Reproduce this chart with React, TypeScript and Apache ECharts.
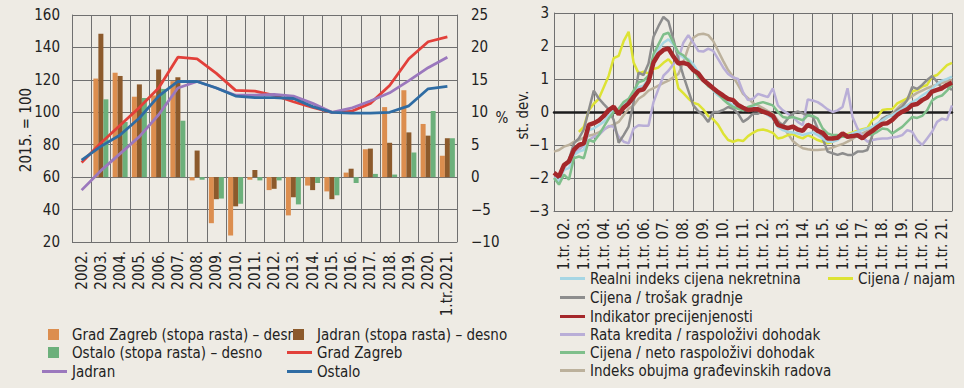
import React, { useEffect, useRef } from "react";
import * as echarts from "echarts";

const FONT = "'Liberation Sans Narrow', 'Arial Narrow', 'DejaVu Sans Condensed', 'Liberation Sans', sans-serif";
const BG = "#eeebe4";
const GRID = "#707070";
const TXT = "#222222";

// ---------- Left panel ----------
const years = ["2002.", "2003.", "2004.", "2005.", "2006.", "2007.", "2008.", "2009.", "2010.", "2011.", "2012.", "2013.", "2014.", "2015.", "2016.", "2017.", "2018.", "2019.", "2020.", "1.tr.2021."];
const zagrebIdx = [69, 81, 92, 103, 115, 134, 133, 124, 113.5, 113, 110.5, 106.5, 103, 100, 100.5, 105.5, 116.5, 133, 143.5, 146.5];
const jadranIdx = [52, 64, 74.5, 85, 98.5, 115, 119, 115, 110.5, 110.5, 111, 110, 105.5, 100, 102.5, 107, 112, 119.5, 127.5, 134];
const ostaloIdx = [70.5, 79, 86, 96.5, 110, 119, 119, 115, 110, 109, 109, 108.5, 103.5, 100, 99.5, 99.5, 100, 104, 114.5, 116];
const zagrebRate = [null, 15.2, 16.1, 12.4, 12.6, 14.8, -0.5, -7.1, -9.0, -0.4, -2.0, -5.9, -1.3, -2.2, 0.7, 4.3, 10.8, 13.4, 8.2, 3.3];
const jadranRate = [null, 22.1, 15.6, 14.3, 16.6, 15.4, 4.1, -3.4, -4.5, 1.1, -1.8, -3.1, -2.0, -3.4, 1.3, 4.4, 5.3, 6.9, 6.4, 6.0];
const ostaloRate = [null, 12.0, 8.5, 12.2, 13.6, 8.7, -0.4, -3.3, -4.1, -0.5, -0.5, -4.2, -0.9, -2.8, -0.9, 0.5, 0.4, 3.8, 10.2, 6.0];
const leftAxisName = "2015. = 100";
const rightAxisName = "%";

// ---------- Right panel ----------
const yearLabels = ["1.tr. 02.", "1.tr. 03.", "1.tr. 04.", "1.tr. 05.", "1.tr. 06.", "1.tr. 07.", "1.tr. 08.", "1.tr. 09.", "1.tr. 10.", "1.tr. 11.", "1.tr. 12.", "1.tr. 13.", "1.tr. 14.", "1.tr. 15.", "1.tr. 16.", "1.tr. 17.", "1.tr. 18.", "1.tr. 19.", "1.tr. 20.", "1.tr. 21."];
const quarters = Array.from({ length: 81 }, (_, i) => `${2002 + Math.floor(i / 4)}Q${(i % 4) + 1}`);
const stDevName = "st. dev.";

const realniIndeks = [
  -2.0, -2.1, -1.75, -1.7, -1.3, -1.2, -1.15, -0.55, -0.5, -0.4, -0.3, -0.1, 0.05, 0.1, 0.25, 0.35, 0.5, 0.75, 0.8, 1.0,
  1.55, 1.9, 2.1, 2.2, 2.05, 1.8, 1.65, 1.6, 1.45, 1.2, 1.0, 0.85, 0.65, 0.5, 0.4, 0.3, 0.2, 0.15, 0.1, 0.12,
  0.15, 0.1, 0.0, -0.1, -0.2, -0.45, -0.55, -0.6, -0.62, -0.65, -0.7, -0.65, -0.62, -0.7, -0.8, -0.9, -0.9, -0.85, -0.72, -0.7,
  -0.65, -0.6, -0.55, -0.5, -0.45, -0.35, -0.25, -0.15, -0.1, 0.0, 0.1, 0.2, 0.3, 0.38, 0.5, 0.6, 0.7, 0.85, 0.95, 1.0,
  1.07,
];
const trosakGradnje = [
  null, null, -1.6, -1.45, -0.95, -0.8, -0.53, 0.06, 0.65, 0.41, 0.24, 0.08, -0.24, -0.93, -0.7, -0.44, 0.3, 1.19, 1.12, 1.47,
  2.28, 2.6, 2.88, 2.75, 2.2, 1.6, 1.1, 0.65, 0.2, 0.02, -0.1, -0.3, 0.0, 0.0, 0.06, 0.15, 0.1, -0.05, -0.3, -0.2,
  -0.05, -0.05, 0.05, 0.0, -0.09, -0.3, -0.39, -0.2, -0.05, 0.02, -0.04, -0.1, -0.14, -0.5, -0.8, -1.2, -1.25, -1.3, -1.25, -1.3,
  -1.3, -1.2, -1.2, -1.15, -0.7, -0.4, -0.2, -0.12, -0.1, 0.06, 0.16, 0.36, 0.76, 0.7, 0.82, 0.97, 1.09, 0.92, 0.72, 0.77,
  0.67,
];
const indikator = [
  -1.84, -1.96, -1.61, -1.5, -1.15, -1.0, -0.95, -0.39, -0.34, -0.26, -0.12, 0.06, 0.16, -0.07, 0.13, 0.26, 0.46, 0.65, 0.69, 0.92,
  1.5, 1.75, 1.88, 1.93, 1.68, 1.47, 1.49, 1.44, 1.27, 1.17, 0.97, 0.85, 0.72, 0.6, 0.5, 0.4, 0.36, 0.21, 0.13, 0.06,
  0.08, 0.08, 0.01, -0.04, -0.12, -0.39, -0.44, -0.49, -0.44, -0.53, -0.57, -0.39, -0.46, -0.57, -0.63, -0.8, -0.8, -0.78, -0.65, -0.75,
  -0.73, -0.7, -0.8, -0.67, -0.57, -0.46, -0.36, -0.34, -0.24, -0.09, 0.01, 0.08, 0.21, 0.24, 0.36, 0.44, 0.62, 0.67, 0.72, 0.82,
  0.89,
];
const rataKredita = [
  -2.0, -1.95, -1.7, -1.5, -1.25, -1.15, -1.0, -0.85, -0.75, -0.7, -0.55, -0.42, -0.45, -0.75, -0.9, -0.95, -0.5, -0.4, -0.42, -0.42,
  0.3, 0.7, 1.1, 1.25, 1.45, 1.6, 2.1, 2.33, 2.1, 1.85, 1.83, 1.92, 1.85, 1.6, 1.35, 1.15, 1.05, 1.0, 0.6, 0.36,
  0.4, 0.55, 0.5, 0.45, 0.72, 0.2, 0.05, -0.05, -0.15, -0.3, -0.4, 0.38, 0.35, 0.3, 0.2, 0.08, 0.0, 0.05, 0.15, 0.72,
  -0.15, -0.5, -0.75, -0.9, -0.85, -0.82, -0.8, -0.8, -0.77, -0.75, -0.7, -0.55, -0.6, -0.85, -1.0, -0.8, -0.6, -0.3, -0.2, -0.24,
  0.2,
];
const netoDohodak = [
  -2.0, -2.2, -1.9, -2.05, -1.4, -1.35, -1.4, -0.85, -0.9, -0.7, -0.45, -0.2, 0.0, 0.1, 0.3, 0.4, 0.65, 0.9, 0.95, 1.1,
  1.75, 2.05, 2.35, 2.4, 2.1, 1.8, 1.72, 1.55, 1.3, 1.05, 0.95, 0.78, 0.68, 0.55, 0.38, 0.25, 0.15, 0.1, 0.05, 0.15,
  0.2, 0.26, 0.3, 0.25, 0.2, 0.0, -0.15, -0.18, -0.15, -0.2, -0.25, -0.1, -0.12, -0.2, -0.5, -0.65, -0.7, -0.7, -0.75, -0.75,
  -0.75, -0.75, -0.78, -0.7, -0.68, -0.6, -0.5, -0.52, -0.65, -0.55, -0.45, -0.3, -0.15, -0.18, -0.12, 0.05, 0.35, 0.45, 0.5, 0.65,
  0.82,
];
const obujamRadova = [
  -1.2, -1.15, -1.05, -1.0, -0.9, -0.85, -0.78, -0.72, -0.68, -0.62, -0.52, -0.45, -0.38, -0.3, -0.1, 0.1, 0.2, 0.4, 0.5, 0.65,
  0.72, 0.8, 0.88, 0.95, 1.05, 1.15, 1.5, 1.95, 2.25, 2.35, 2.37, 2.33, 2.15, 1.85, 1.55, 1.27, 1.07, 0.82, 0.55, 0.42,
  0.27, 0.2, 0.12, 0.03, -0.05, -0.25, -0.45, -0.65, -0.88, -1.0, -1.1, -1.13, -1.15, -1.15, -1.14, -1.12, -1.08, -1.02, -0.97, -0.9,
  -0.82, -0.72, -0.65, -0.57, -0.5, -0.4, -0.28, -0.15, -0.05, 0.1, 0.25, 0.38, 0.48, 0.58, 0.65, 0.72, 0.78, 0.83, 0.88, 0.93,
  0.97,
];
const cijenaNajam = [
  null, null, null, null, null, -0.6, -0.45, 0.05, 0.25, 0.4, 0.75, 1.1, 1.63, 1.7, 2.15, 2.43, 1.5, 1.17, 1.22, 1.17,
  1.3, 1.35, 1.49, 1.6, 1.42, 0.72, 0.57, 0.41, 0.28, 0.23, 0.08, -0.12, -0.22, -0.39, -0.65, -0.85, -0.9, -0.85, -0.88, -0.73,
  -0.63, -0.55, -0.53, -0.57, -0.63, -0.8, -0.77, -0.7, -0.67, -0.75, -0.8, -0.7, -0.77, -0.85, -0.9, -0.95, -0.9, -0.8, -0.73, -0.67,
  -0.62, -0.57, -0.52, -0.48, -0.25, -0.15, 0.06, 0.08, 0.09, 0.26, 0.34, 0.41, 0.62, 0.67, 0.77, 0.82, 1.07, 1.12, 1.27, 1.42,
  1.49,
];

const C = {
  zagrebBar: "#dc8e4f",
  jadranBar: "#8c5a2c",
  ostaloBar: "#6cb07b",
  zagrebLine: "#e2403a",
  jadranLine: "#9b78bd",
  ostaloLine: "#2f6ca3",
  realni: "#a6d6e4",
  trosak: "#8d8d8d",
  indikator: "#a5282b",
  rata: "#b9aed7",
  neto: "#7fbf8b",
  obujam: "#bcb19c",
  najam: "#dde334",
};

const minus = (v: number) => String(v).replace("-", "\u2212");
const txt = (size = 15) => ({ fontFamily: FONT, fontSize: size, color: TXT });

function barLegend(name: string, left: number, cy: number) {
  return {
    data: [name], left, top: cy - 8, padding: 0, icon: "rect", itemWidth: 11, itemHeight: 11,
    selectedMode: false, textStyle: { ...txt(15), padding: [0, 0, 0, 8] },
  };
}
function lineLegend(name: string, left: number, cy: number) {
  return {
    data: [name], left, top: cy - 8, padding: 0, icon: "rect", itemWidth: 25, itemHeight: 3,
    selectedMode: false, textStyle: { ...txt(15) },
  };
}
function axisTitle(text: string, x: number, y: number, rotated: boolean) {
  return {
    type: "text", x, y, rotation: rotated ? Math.PI / 2 : 0, silent: true,
    style: { text, fill: TXT, font: `15px ${FONT}`, align: "center", verticalAlign: "middle" },
  };
}

export default function App() {
  const ref = useRef<HTMLDivElement>(null);
  useEffect(() => {
    const chart = echarts.init(ref.current!, null, { renderer: "svg" });
    const lineSeries = (name: string, data: (number | null)[], color: string, width: number, z: number) => ({
      name, type: "line", xAxisIndex: 2, yAxisIndex: 2, data, showSymbol: false, symbol: "none",
      connectNulls: false, z, lineStyle: { color, width }, itemStyle: { color },
    });
    chart.setOption({
      animation: false,
      backgroundColor: BG,
      textStyle: { fontFamily: FONT },
      grid: [
        { left: 72, top: 15, width: 385, height: 227 },
        { left: 554, top: 13, width: 398, height: 198 },
      ],
      graphic: [
        axisTitle(leftAxisName, 26, 130, true),
        axisTitle(rightAxisName, 502, 118, false),
        axisTitle(stDevName, 523, 115, true),
      ],
      xAxis: [
        {
          gridIndex: 0, type: "category", data: years, boundaryGap: true,
          axisLine: { lineStyle: { color: GRID } }, axisTick: { show: false },
          axisLabel: { ...txt(15), interval: 0, rotate: 90, margin: 9 },
          splitLine: { show: true, interval: 0, lineStyle: { color: GRID, width: 1 } },
        },
        {
          gridIndex: 1, type: "category", data: yearLabels, boundaryGap: true, position: "bottom",
          axisLine: { onZero: false, lineStyle: { color: GRID } }, axisTick: { show: false },
          axisLabel: { ...txt(15), interval: 0, rotate: 90, margin: 7 },
          splitLine: { show: true, interval: 0, lineStyle: { color: GRID, width: 1 } },
        },
        {
          gridIndex: 1, type: "category", data: quarters, boundaryGap: false, position: "bottom",
          axisLine: { show: true, onZero: true, lineStyle: { color: "#1c1c1c", width: 2.5 } },
          axisTick: { show: false }, axisLabel: { show: false }, splitLine: { show: false },
        },
      ],
      yAxis: [
        {
          gridIndex: 0, type: "value", min: 20, max: 160, interval: 20, position: "left",
          axisLine: { show: true, lineStyle: { color: GRID } }, axisTick: { show: false },
          axisLabel: { ...txt(15), margin: 12 },
          splitLine: { show: true, lineStyle: { color: GRID, width: 1 } },
        },
        {
          gridIndex: 0, type: "value", min: -10, max: 25, interval: 5, position: "right",
          axisLine: { show: true, lineStyle: { color: GRID } }, axisTick: { show: false },
          axisLabel: { ...txt(15), margin: 14, formatter: minus },
          splitLine: { show: false },
        },
        {
          gridIndex: 1, type: "value", min: -3, max: 3, interval: 1, position: "left",
          axisLine: { show: true, onZero: false, lineStyle: { color: GRID } }, axisTick: { show: false },
          axisLabel: { ...txt(15), margin: 5, formatter: minus },
          splitLine: { show: true, lineStyle: { color: GRID, width: 1 } },
        },
      ],
      legend: [
        barLegend("Grad Zagreb (stopa rasta) – desno", 48, 335),
        barLegend("Jadran (stopa rasta) – desno", 293, 335),
        barLegend("Ostalo (stopa rasta) – desno", 48, 353),
        lineLegend("Grad Zagreb", 287, 353),
        lineLegend("Jadran", 42, 372),
        lineLegend("Ostalo", 287, 372),
        lineLegend("Realni indeks cijena nekretnina", 560, 279),
        lineLegend("Cijena / trošak gradnje", 560, 298),
        lineLegend("Indikator precijenjenosti", 560, 317),
        lineLegend("Rata kredita / raspoloživi dohodak", 560, 335),
        lineLegend("Cijena / neto raspoloživi dohodak", 560, 353),
        lineLegend("Indeks obujma građevinskih radova", 560, 371),
        lineLegend("Cijena / najam", 828, 279),
      ],
      series: [
        {
          name: "Grad Zagreb (stopa rasta) – desno", type: "bar", xAxisIndex: 0, yAxisIndex: 1,
          data: zagrebRate, barGap: "0%", barCategoryGap: "22%", itemStyle: { color: C.zagrebBar },
        },
        {
          name: "Jadran (stopa rasta) – desno", type: "bar", xAxisIndex: 0, yAxisIndex: 1,
          data: jadranRate, barGap: "0%", barCategoryGap: "22%", itemStyle: { color: C.jadranBar },
        },
        {
          name: "Ostalo (stopa rasta) – desno", type: "bar", xAxisIndex: 0, yAxisIndex: 1,
          data: ostaloRate, barGap: "0%", barCategoryGap: "22%", itemStyle: { color: C.ostaloBar },
        },
        {
          name: "Grad Zagreb", type: "line", xAxisIndex: 0, yAxisIndex: 0, data: zagrebIdx,
          showSymbol: false, symbol: "none", z: 3, lineStyle: { color: C.zagrebLine, width: 2.8 }, itemStyle: { color: C.zagrebLine },
        },
        {
          name: "Jadran", type: "line", xAxisIndex: 0, yAxisIndex: 0, data: jadranIdx,
          showSymbol: false, symbol: "none", z: 3, lineStyle: { color: C.jadranLine, width: 2.8 }, itemStyle: { color: C.jadranLine },
        },
        {
          name: "Ostalo", type: "line", xAxisIndex: 0, yAxisIndex: 0, data: ostaloIdx,
          showSymbol: false, symbol: "none", z: 3, lineStyle: { color: C.ostaloLine, width: 2.8 }, itemStyle: { color: C.ostaloLine },
        },
        lineSeries("Indeks obujma građevinskih radova", obujamRadova, C.obujam, 2.5, 3),
        lineSeries("Cijena / najam", cijenaNajam, C.najam, 2.5, 3),
        lineSeries("Rata kredita / raspoloživi dohodak", rataKredita, C.rata, 2.5, 3),
        lineSeries("Cijena / trošak gradnje", trosakGradnje, C.trosak, 2.5, 3),
        lineSeries("Realni indeks cijena nekretnina", realniIndeks, C.realni, 2.5, 3),
        lineSeries("Cijena / neto raspoloživi dohodak", netoDohodak, C.neto, 2.5, 3),
        lineSeries("Indikator precijenjenosti", indikator, C.indikator, 4.5, 4),
      ],
    });
    return () => chart.dispose();
  }, []);
  return (
    <div
      ref={ref}
      style={{ position: "absolute", left: 0, top: 0, width: 964, height: 388, background: BG }}
    />
  );
}
